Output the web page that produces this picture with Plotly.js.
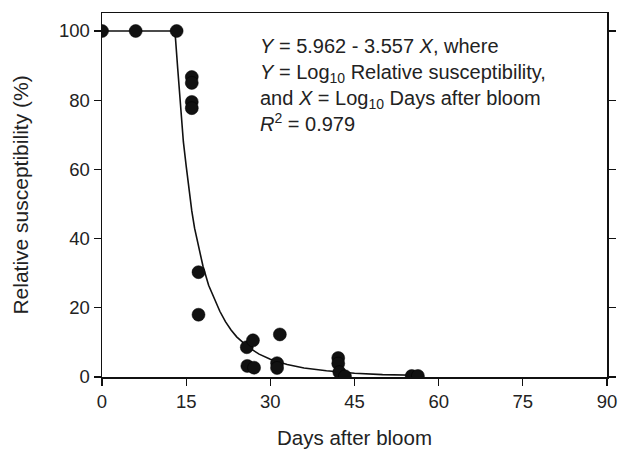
<!DOCTYPE html>
<html>
<head>
<meta charset="utf-8">
<script src="https://cdn.plot.ly/plotly-3.0.1.min.js"></script>
<style>html,body{margin:0;padding:0;background:#fff;}#chart{width:621px;height:452px;}</style>
</head>
<body>
<div id="chart"></div>
<script>
// Observed points: days after bloom, relative susceptibility (%)
const obsDays = [0, 6, 13.3, 16.0, 16.0, 16.0, 16.0, 17.2, 17.2, 25.8, 26.9, 25.9, 27.1, 31.2, 31.2, 31.7, 42.1, 42.1, 42.3, 43.3, 55.2, 56.3];
const obsSusc = [100, 100, 100, 86.7, 85.0, 79.5, 77.7, 30.3, 18.0, 8.6, 10.6, 3.2, 2.7, 4.0, 2.6, 12.3, 5.5, 3.9, 1.4, 0.2, 0.3, 0.3];

// Fitted curve
const fitDays = [0, 13, 13.5, 14, 14.5, 15, 15.5, 16, 16.5, 17, 18, 19, 20, 21, 22, 23, 24, 25, 26, 28, 30, 33, 36, 40, 45, 50, 56];
const fitSusc = [100, 100, 89, 78, 68, 61, 54, 48, 43, 39, 32, 26.5, 22.5, 19, 16, 13.6, 11.6, 10, 8.7, 6.6, 5.1, 3.6, 2.6, 1.8, 1.1, 0.7, 0.5];

const xTicks = [0, 15, 30, 45, 60, 75, 90];
const yTicks = [0, 20, 40, 60, 80, 100];

const fontFam = '"Liberation Sans", Arial, Helvetica, sans-serif';

const traces = [
  {
    x: fitDays, y: fitSusc, type: 'scatter', mode: 'lines',
    line: {color: '#111', width: 1.6},
    hoverinfo: 'skip', showlegend: false
  },
  {
    x: obsDays, y: obsSusc, type: 'scatter', mode: 'markers',
    marker: {color: '#111', size: 13, line: {color: '#000', width: 0.5}},
    showlegend: false
  }
];

const layout = {
  width: 621, height: 452,
  margin: {l: 102, r: 14, t: 13, b: 75},
  paper_bgcolor: '#fff', plot_bgcolor: '#fff',
  font: {family: fontFam, color: '#222', size: 18},
  xaxis: {
    range: [0, 90], tickvals: xTicks, ticktext: xTicks.map(String),
    ticks: 'outside', ticklen: 7, tickwidth: 1.2, tickcolor: '#111',
    showline: true, linecolor: '#111', linewidth: 1.5, mirror: true,
    showgrid: false, zeroline: false,
    tickfont: {size: 18.5, family: fontFam, color: '#222'},
    title: {text: 'Days after bloom', font: {size: 20.5, family: fontFam, color: '#222'}, standoff: 20}
  },
  yaxis: {
    range: [0, 105.2], tickvals: yTicks, ticktext: yTicks.map(String),
    ticks: 'outside', ticklen: 7, tickwidth: 1.2, tickcolor: '#111',
    showline: true, linecolor: '#111', linewidth: 1.5, mirror: 'ticks',
    showgrid: false, zeroline: false,
    tickfont: {size: 18.5, family: fontFam, color: '#222'},
    title: {text: 'Relative susceptibility (%)', font: {size: 21, family: fontFam, color: '#222'}, standoff: 24}
  },
  annotations: [{
    xref: 'x', yref: 'y', x: 27.8, y: 99.5, xanchor: 'left', yanchor: 'top', align: 'left',
    showarrow: false,
    font: {size: 20, family: fontFam, color: '#222'},
    text: '<i>Y</i> = 5.962 - 3.557 <i>X</i>, where<br><i>Y</i> = Log<sub>10</sub> Relative susceptibility,<br>and <i>X</i> = Log<sub>10</sub> Days after bloom<br><i>R</i><sup>2</sup> = 0.979'
  }]
};

Plotly.newPlot('chart', traces, layout, {displayModeBar: false, staticPlot: true});
</script>
</body>
</html>
